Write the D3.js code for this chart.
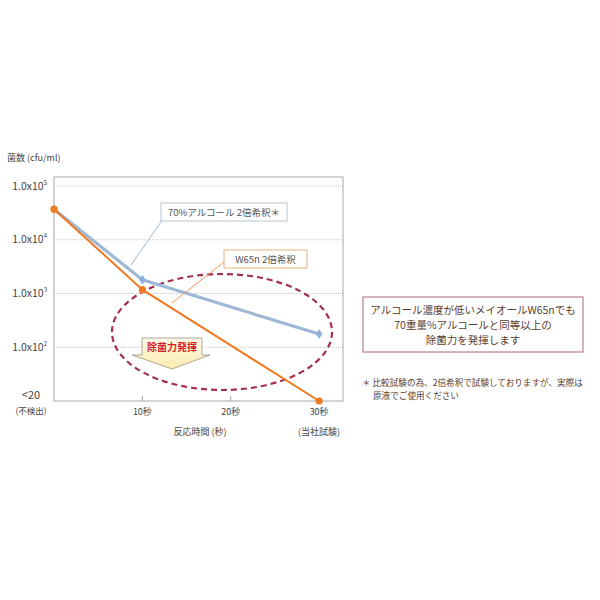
<!DOCTYPE html>
<html><head><meta charset="utf-8">
<script src="https://cdn.jsdelivr.net/npm/d3@7"></script>
<style>body{margin:0;background:#fff}svg{display:block}text{font-family:"Noto Sans CJK JP","Noto Sans",sans-serif}</style>
</head><body>
<script>
const times = [0, 10, 30];
const alcohol70 = [37000, 1800, 176];   // 70%アルコール 2倍希釈＊
const w65n = [37000, 1180, 10];         // W65n 2倍希釈 (10 = <20 不検出)
const yTicks = [1e5, 1e4, 1e3, 1e2];
const yTickMantissa = ["1.0x10", "1.0x10", "1.0x10", "1.0x10"];
const yTickExp = ["5", "4", "3", "2"];
const xTicks = [10, 20, 30];
const xTickLabels = ["10秒", "20秒", "30秒"];

const W = 600, H = 600;
const svg = d3.select("body").append("svg").attr("width", W).attr("height", H);
const L = 54, R = 343, T = 177, B = 401;
const x = d3.scaleLinear().domain([0, 32.7]).range([L, R]);
const y = d3.scaleLog().domain([10, 1e5]).range([B, 186]);

// gridlines
svg.append("g").selectAll("line").data(yTicks).join("line")
  .attr("x1", L).attr("x2", R).attr("y1", d => y(d)).attr("y2", d => y(d))
  .attr("stroke", "#c8c8c8").attr("stroke-width", 1).attr("stroke-dasharray", "1,1");
// frame
svg.append("rect").attr("x", L).attr("y", T).attr("width", R - L).attr("height", B - T)
  .attr("fill", "none").attr("stroke", "#a8a8a8").attr("stroke-width", 1);
// bottom ticks
svg.append("g").selectAll("line").data(xTicks.slice(0, 2)).join("line")
  .attr("x1", d => x(d)).attr("x2", d => x(d)).attr("y1", B).attr("y2", B - 5)
  .attr("stroke", "#a8a8a8");

// y tick labels
const yl = svg.append("g").attr("fill", "#444").attr("font-size", 10.5);
yTicks.forEach((d, i) => {
  const t = yl.append("text").attr("x", 47).attr("y", y(d) + 3.5).attr("text-anchor", "end");
  t.append("tspan").text(yTickMantissa[i]);
  t.append("tspan").attr("font-size", 6).attr("dy", -5).text(yTickExp[i]);
});
yl.append("text").attr("x", 31).attr("y", B - 2).attr("text-anchor", "middle").attr("font-size", 11).text("<20");
yl.append("text").attr("x", 31).attr("y", B + 13).attr("text-anchor", "middle").attr("font-size", 8.5).text("(不検出)");
svg.append("text").attr("x", 7).attr("y", 161).attr("font-size", 9).attr("fill", "#444").text("菌数 (cfu/ml)");

// x labels
const xl = svg.append("g").attr("fill", "#444").attr("font-size", 9).attr("text-anchor", "middle");
xTicks.forEach((d, i) => xl.append("text").attr("x", x(d)).attr("y", B + 14).text(xTickLabels[i]));
xl.append("text").attr("x", 200).attr("y", B + 34).text("反応時間 (秒)");
xl.append("text").attr("x", x(30)).attr("y", B + 34).text("(当社試験)");

// ellipse
svg.append("ellipse").attr("cx", 222).attr("cy", 332).attr("rx", 110).attr("ry", 58)
  .attr("fill", "none").attr("stroke", "#a3304f").attr("stroke-width", 2.2).attr("stroke-dasharray", "6,4");

// lines
const line = d3.line().x(d => x(d[0])).y(d => y(d[1]));
const blueData = times.map((t, i) => [t, alcohol70[i]]);
const orangeData = times.map((t, i) => [t, w65n[i]]);
svg.append("path").datum(blueData).attr("d", line).attr("fill", "none")
  .attr("stroke", "#9fb8d6").attr("stroke-width", 3.2);
svg.append("path").datum(orangeData).attr("d", line).attr("fill", "none")
  .attr("stroke", "#ef7a22").attr("stroke-width", 2);
svg.append("g").selectAll("path").data(blueData.slice(1)).join("path")
  .attr("d", d3.symbol(d3.symbolDiamond, 40))
  .attr("transform", d => `translate(${x(d[0])},${y(d[1])}) scale(1,0.8)`).attr("fill", "#8fb0d8");
svg.append("g").selectAll("circle").data(orangeData).join("circle")
  .attr("cx", d => x(d[0])).attr("cy", d => y(d[1])).attr("r", 3.6).attr("fill", "#ef7a22");

// callout leaders
svg.append("line").attr("x1", 131).attr("y1", 265).attr("x2", 163).attr("y2", 219).attr("stroke", "#9fb8d6").attr("stroke-width", 1);
svg.append("line").attr("x1", 172).attr("y1", 303).attr("x2", 224).attr("y2", 262).attr("stroke", "#ef9a58").attr("stroke-width", 1);
// callout boxes
svg.append("rect").attr("x", 161).attr("y", 203).attr("width", 126).attr("height", 18)
  .attr("fill", "#fff").attr("stroke", "#b8c4d0");
svg.append("text").attr("x", 224).attr("y", 216).attr("text-anchor", "middle").attr("font-size", 9.5).attr("fill", "#555").text("70%アルコール 2倍希釈＊");
svg.append("rect").attr("x", 224).attr("y", 250).attr("width", 83).attr("height", 18)
  .attr("fill", "#fff").attr("stroke", "#e8b080");
svg.append("text").attr("x", 265.5).attr("y", 263).attr("text-anchor", "middle").attr("font-size", 9.5).attr("fill", "#555").text("W65n 2倍希釈");

// arrow shape
const grad = svg.append("defs").append("linearGradient").attr("id", "ag").attr("x1", 0).attr("y1", 0).attr("x2", 0).attr("y2", 1);
grad.append("stop").attr("offset", 0).attr("stop-color", "#fffbe8");
grad.append("stop").attr("offset", 1).attr("stop-color", "#fbeab0");
svg.append("path").attr("d", "M142,338 L202,338 L202,355 L210,355 L172,369 L132,355 L142,355 Z")
  .attr("fill", "url(#ag)").attr("stroke", "#9a9080").attr("stroke-width", 0.8);
svg.append("text").attr("x", 172).attr("y", 351).attr("text-anchor", "middle").attr("font-size", 10)
  .attr("font-weight", "bold").attr("fill", "#d8202a").text("除菌力発揮");

// right box
svg.append("rect").attr("x", 363).attr("y", 297).attr("width", 220).attr("height", 55)
  .attr("fill", "#fff").attr("stroke", "#b7838f").attr("stroke-width", 1.2);
const rt = svg.append("g").attr("font-size", 10.5).attr("fill", "#5a4032").attr("text-anchor", "middle");
["アルコール濃度が低いメイオールW65nでも", "70重量%アルコールと同等以上の", "除菌力を発揮します"]
  .forEach((s, i) => rt.append("text").attr("x", 473).attr("y", 314 + i * 15).text(s));
const fn = svg.append("g").attr("font-size", 8.6).attr("fill", "#5a4032");
fn.append("text").attr("x", 362).attr("y", 386).text("＊ 比較試験の為、2倍希釈で試験しておりますが、実際は");
fn.append("text").attr("x", 373).attr("y", 399).text("原液でご使用ください");
</script>
</body></html>
